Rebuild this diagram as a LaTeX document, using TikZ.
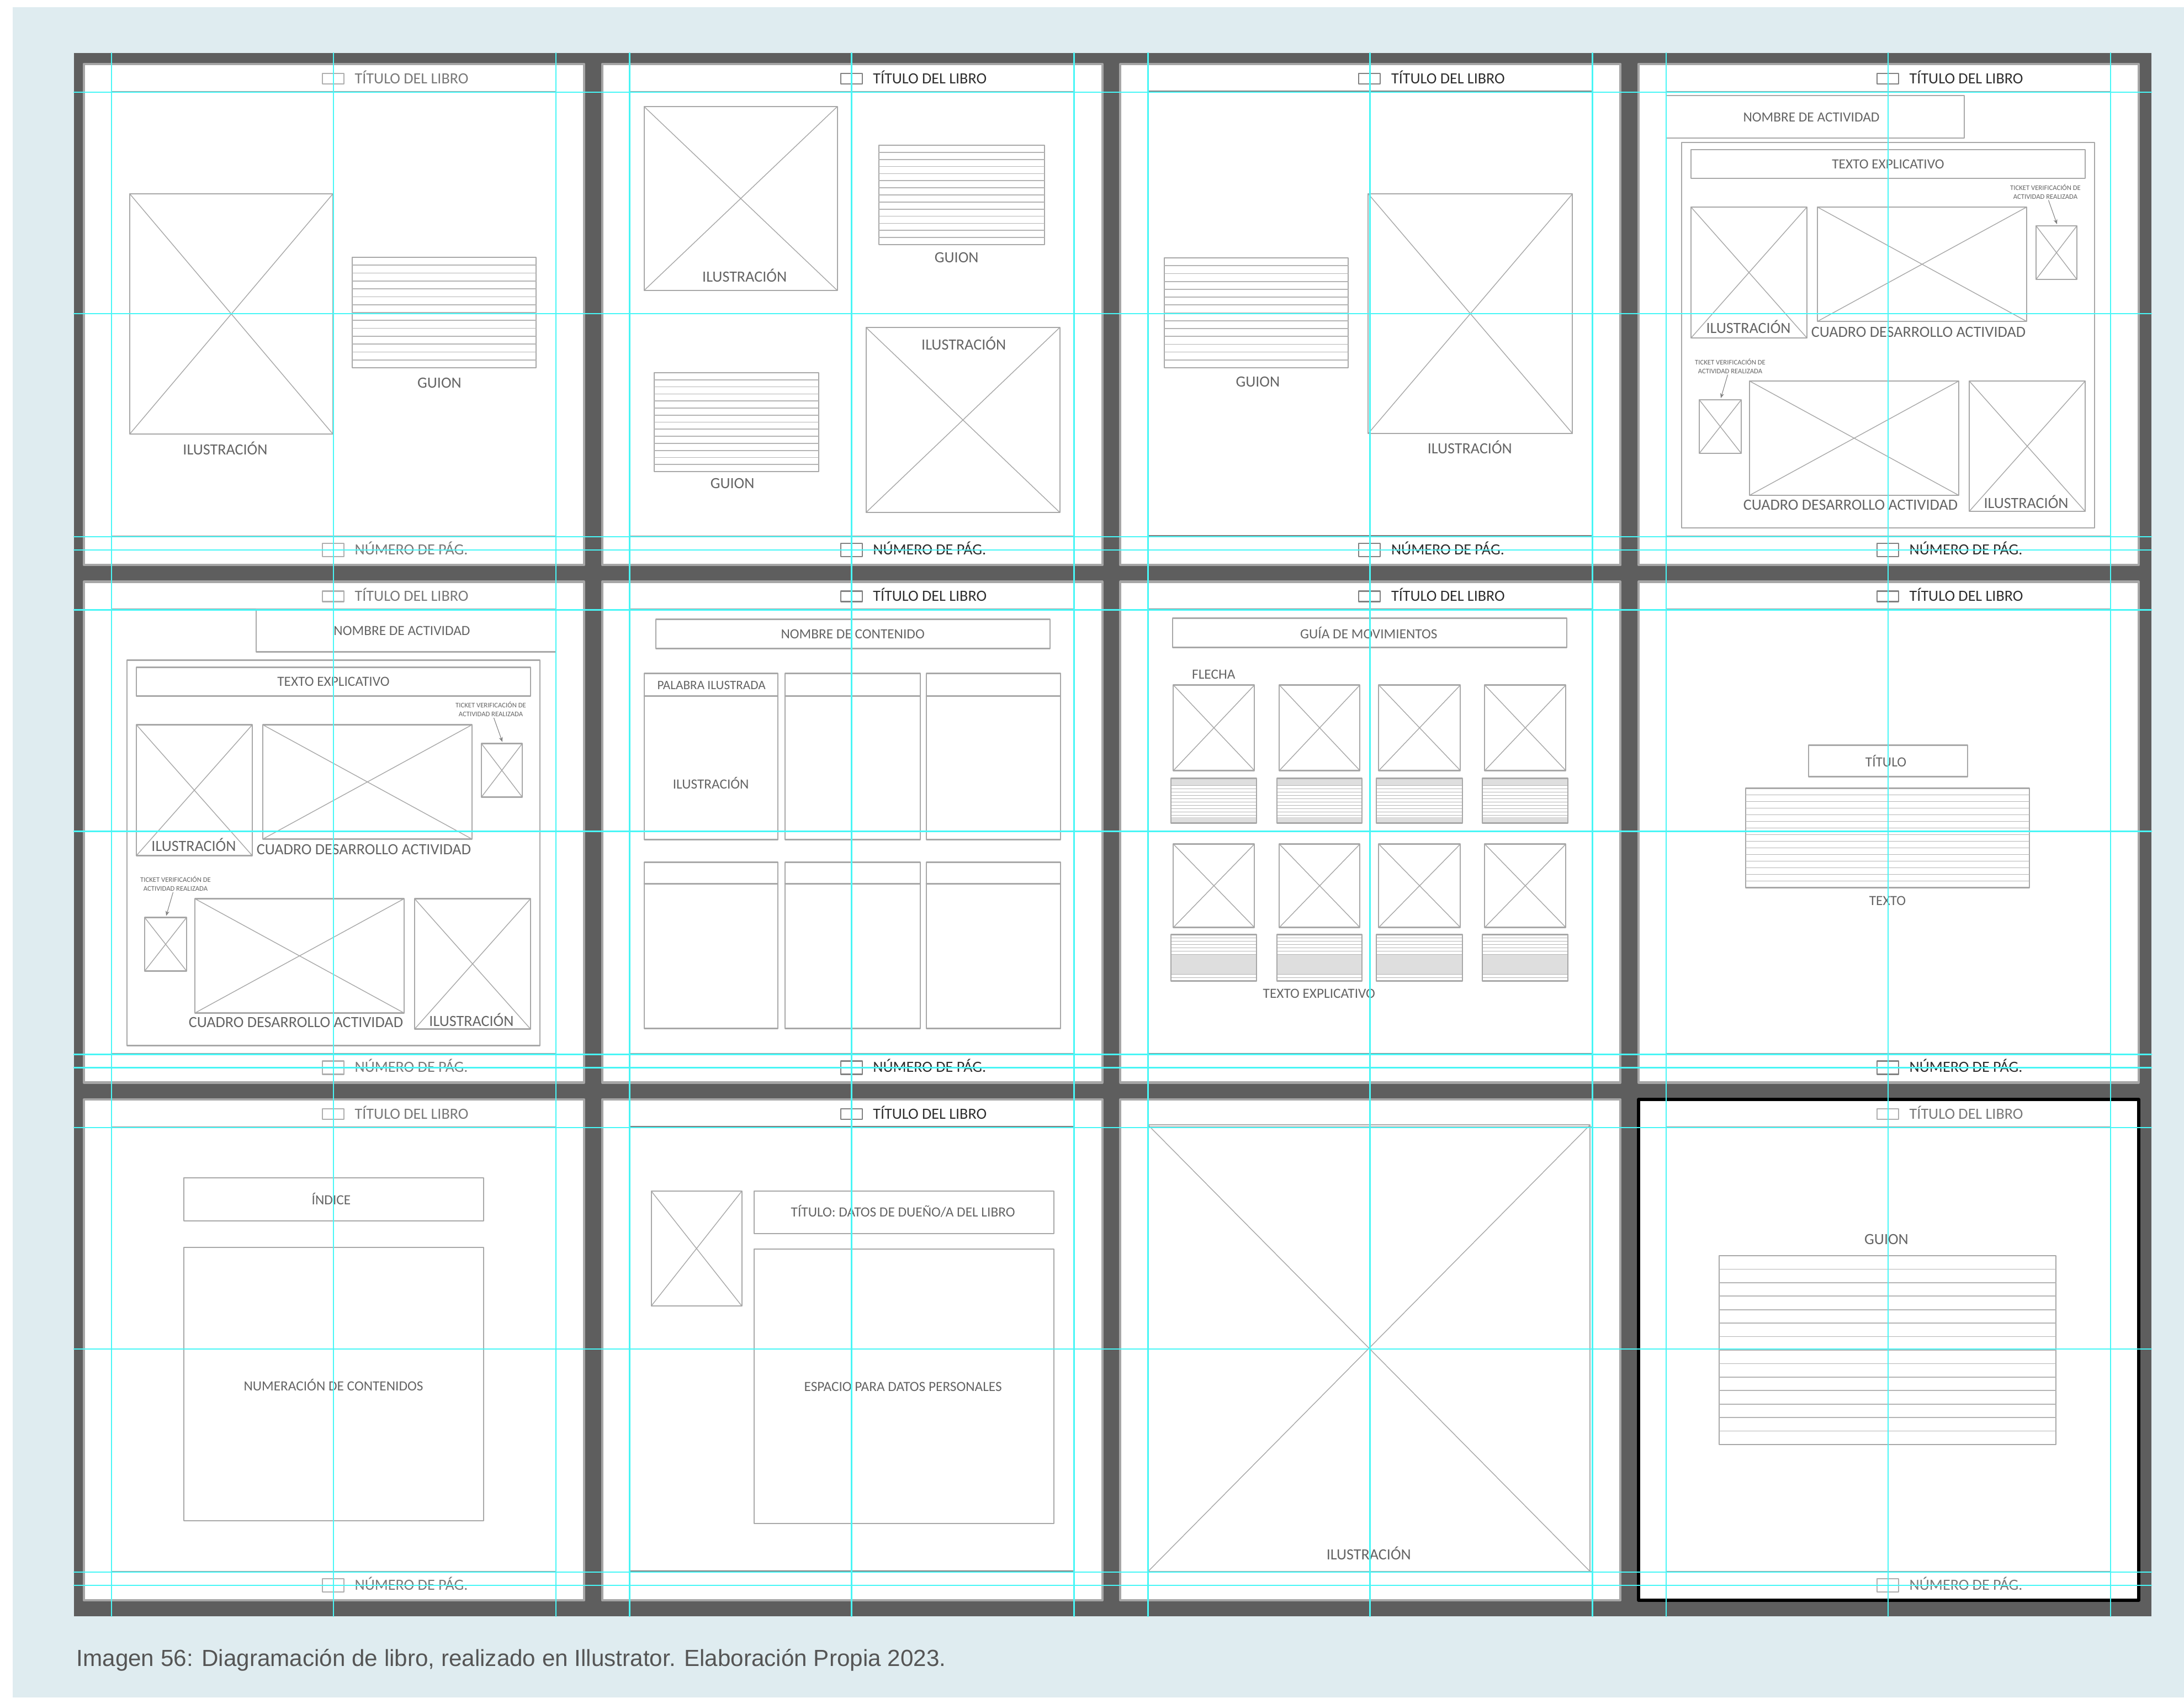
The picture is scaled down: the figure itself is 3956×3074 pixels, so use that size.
\documentclass[tikz,border=0pt]{standalone}
\usepackage{fontspec}
\setmainfont{Liberation Sans}
\newfontfamily\wirefont{Carlito}
\usetikzlibrary{arrows.meta}

\definecolor{bgblue}{RGB}{223,236,240}
\definecolor{boardgray}{RGB}{94,94,94}
\definecolor{guidecyan}{RGB}{72,246,246}
\definecolor{wiregray}{RGB}{168,168,168}
\definecolor{rulegray}{RGB}{180,180,180}
\definecolor{bandgray}{RGB}{222,222,222}
\definecolor{margingray}{RGB}{155,155,155}
\definecolor{lblgray}{RGB}{100,100,100}
\definecolor{inkdark}{RGB}{45,45,45}
\definecolor{inklight}{RGB}{120,120,120}
\definecolor{capgray}{RGB}{85,85,85}

\tikzset{
  artboard/.style={fill=white,draw=gray!70,line width=1.2pt},
  marginbox/.style={draw=margingray,line width=0.8pt},
  wirebox/.style={draw=wiregray,line width=0.6pt},
  crossline/.style={draw=wiregray,line width=0.4pt},
  ruleline/.style={draw=rulegray,line width=0.5pt},
  lbl/.style={font=\wirefont\fontsize{8}{9}\selectfont,text=lblgray,inner sep=0pt},
  lbls/.style={font=\wirefont\fontsize{7.2}{8}\selectfont,text=lblgray,inner sep=0pt},
  ticket/.style={font=\wirefont\fontsize{3.6}{4.5}\selectfont,text=lblgray,inner sep=0.5pt,align=center},
  tickarrow/.style={draw=gray,line width=0.3pt,-{Stealth[length=2.5pt,width=2pt]}},
  runhead/.style={font=\wirefont\fontsize{8}{9}\selectfont,anchor=base west,inner sep=0pt},
  guide/.style={draw=guidecyan,line width=0.7pt},
  captiontext/.style={font=\fontsize{12}{14}\selectfont,text=capgray,anchor=base west,inner sep=0pt}
}

% image placeholder: a box with its two diagonals
\newcommand{\xbox}[4]{%
  \draw[wirebox] (#1,#2) rectangle (#3,#4);
  \draw[crossline] (#1,#2) -- (#3,#4) (#1,#4) -- (#3,#2);}
% text placeholder: a box with #5 ruled lines
\newcommand{\ruledbox}[5]{%
  \draw[wirebox] (#1,#2) rectangle (#3,#4);
  \foreach \k in {1,...,#5}{
    \pgfmathsetmacro{\ry}{#2+(#4-#2)*\k/(#5+1)}
    \draw[ruleline] (#1,\ry) -- (#3,\ry);}}
% close lines every 6 units
\newcommand{\stripes}[4]{%
  \pgfmathtruncatemacro{\ns}{(#4-#2)/6}
  \foreach \k in {0,...,\ns}
    \draw[ruleline] ({#1},{#2+6*\k}) -- ({#3},{#2+6*\k});}
% running head and foot
\newcommand{\pagehead}[2]{%
  \draw[draw=#2!60,line width=0.6pt] (432,17) rectangle (471,36);
  \node[runhead,text=#2] (#1head) at (490,35) {TÍTULO DEL LIBRO};}
\newcommand{\pagefoot}[2]{%
  \draw[draw=#2!60,line width=0.6pt] (432,868) rectangle (471,892);
  \node[runhead,text=#2] (#1foot) at (490,888) {NÚMERO DE PÁG.};}
% activity spread shared by two pages
\newcommand{\activity}[1]{%
  \draw[wirebox] (78,142) rectangle (826,840);
  \draw[wirebox] (95,155) rectangle (809,207);
  \node[lbls] (#1texto) at (452,181) {TEXTO EXPLICATIVO};
  \xbox{95}{259}{305}{496}
  \node[lbl] (#1ilup) at (199,476) {ILUSTRACIÓN};
  \xbox{324}{259}{703}{466}
  \node[lbl] (#1cdup) at (507,485) {CUADRO DESARROLLO ACTIVIDAD};
  \node[ticket] (#1tkup) at (737,231) {TICKET VERIFICACIÓN DE\\ACTIVIDAD REALIZADA};
  \xbox{720}{293}{794}{390}
  \coordinate (#1tbup) at (758,290);
  \draw[tickarrow] (#1tkup) -- (#1tbup);
  \node[ticket] (#1tklo) at (166,547) {TICKET VERIFICACIÓN DE\\ACTIVIDAD REALIZADA};
  \xbox{110}{608}{186}{705}
  \coordinate (#1tblo) at (149,605);
  \draw[tickarrow] (#1tklo) -- (#1tblo);
  \xbox{201}{574}{580}{781}
  \node[lbl] (#1cdlo) at (384,798) {CUADRO DESARROLLO ACTIVIDAD};
  \xbox{599}{574}{809}{810}
  \node[lbl] (#1illo) at (702,793) {ILUSTRACIÓN};}

\begin{document}
\begin{tikzpicture}[x=0.01cm,y=-0.01cm,line cap=round,line join=round]
  \useasboundingbox (0,0) rectangle (3956,3074);
  % Figure background and the dark pasteboard.
  \fill[white] (0,0) rectangle (3956,3074);
  \fill[bgblue] (23,13) rectangle (3956,3074);
  \fill[boardgray] (134,96) rectangle (3897,2927);

  % Twelve artboards with their margin boxes.
  \foreach \c in {0,...,3}
   \foreach \r in {0,1,2}{
    \draw[artboard] ({152+938.67*\c},{116+937.5*\r}) rectangle ++(906,907);
    \draw[marginbox] ({202+938.67*\c},{166+937.5*\r}) rectangle ++(805,805);
   }
  \draw[black,line width=1.6pt] (2968,1991) rectangle ++(906,907);

  % Page 1: illustration and script.
  \begin{scope}[shift={(152,116)}]
   \pagehead{pa}{inklight}
   \pagefoot{pa}{inklight}
   \xbox{83}{235}{451}{670}
   \node[lbl] (pail) at (256,696) {ILUSTRACIÓN};
   \ruledbox{486}{350}{819}{550}{13}
   \node[lbl] (pagu) at (644,577) {GUION};
  \end{scope}

  % Page 2: two illustrations and two scripts.
  \begin{scope}[shift={(1090.67,116)}]
   \pagehead{pb}{inkdark}
   \pagefoot{pb}{inkdark}
   \xbox{76}{77}{426}{410}
   \node[lbl] (pbilup) at (258,383) {ILUSTRACIÓN};
   \ruledbox{501}{147}{801}{327}{13}
   \node[lbl] (pbguup) at (642,350) {GUION};
   \ruledbox{94}{559}{392}{738}{13}
   \node[lbl] (pbgulo) at (236,759) {GUION};
   \xbox{478}{477}{829}{812}
   \node[lbl] (pbillo) at (655,506) {ILUSTRACIÓN};
  \end{scope}

  % Page 3: script and illustration.
  \begin{scope}[shift={(2029.33,116)}]
   \pagehead{pc}{inkdark}
   \pagefoot{pc}{inkdark}
   \draw[draw=gray,line width=0.9pt] (50,50) rectangle (855,855);
   \ruledbox{80}{351}{413}{550}{13}
   \node[lbl] (pcgu) at (249,575) {GUION};
   \xbox{449}{235}{819}{669}
   \node[lbl] (pcil) at (633,694) {ILUSTRACIÓN};
  \end{scope}

  % Page 4: activity, name box on the left.
  \begin{scope}[shift={(2968,116)}]
   \pagehead{pd}{inkdark}
   \pagefoot{pd}{inkdark}
   \draw[wirebox] (50,57) rectangle (590,134);
   \node[lbls] (pdnom) at (313,96) {NOMBRE DE ACTIVIDAD};
   \activity{pd}
  \end{scope}

  % Page 5: activity, name box on the right.
  \begin{scope}[shift={(152,1053.5)}]
   \pagehead{pe}{inklight}
   \pagefoot{pe}{inklight}
   \draw[wirebox] (312,50) rectangle (855,127);
   \node[lbls] (penom) at (576,89) {NOMBRE DE ACTIVIDAD};
   \activity{pe}
  \end{scope}

  % Page 6: illustrated words.
  \begin{scope}[shift={(1090.67,1053.5)}]
   \pagehead{pf}{inkdark}
   \pagefoot{pf}{inkdark}
   \draw[wirebox] (97,68) rectangle (811,121);
   \node[lbls] (pfnom) at (454,95) {NOMBRE DE CONTENIDO};
   \foreach \xa/\xb in {76/318,331/576,587/830}{
    \draw[wirebox] (\xa,166) rectangle (\xb,467) (\xa,207) -- (\xb,207);
    \draw[wirebox] (\xa,508) rectangle (\xb,809) (\xa,547) -- (\xb,547);
   }
   \node[font=\wirefont\fontsize{6.6}{8}\selectfont,text=lblgray,inner sep=0pt] (pfpal) at (198,188) {PALABRA ILUSTRADA};
   \node[lbls] (pfil) at (197,364) {ILUSTRACIÓN};
  \end{scope}

  % Page 7: movement guide.
  \begin{scope}[shift={(2029.33,1053.5)}]
   \pagehead{pg}{inkdark}
   \draw[draw=gray,line width=0.9pt] (50,50) rectangle (855,855);
   \draw[wirebox] (95,66) rectangle (809,119);
   \node[lbls] (pgnom) at (450,92) {GUÍA DE MOVIMIENTOS};
   \node[lbls] (pgfle) at (169,168) {FLECHA};
   \foreach \xa/\xb in {96/243,288/434,468/616,660/807}{
    \xbox{\xa}{187}{\xb}{342}
    \xbox{\xa}{475}{\xb}{626}
    \fill[bandgray] ({\xa-4},356) rectangle ({\xb+4},369) ({\xa-4},426) rectangle ({\xb+4},437);
    \stripes{\xa-4}{369}{\xb+4}{426}
    \draw[wirebox] ({\xa-4},356) rectangle ({\xb+4},437);
    \fill[bandgray] ({\xa-4},675) rectangle ({\xb+4},711);
    \stripes{\xa-4}{639}{\xb+4}{675}
    \stripes{\xa-4}{711}{\xb+4}{723}
    \draw[wirebox] ({\xa-4},639) rectangle ({\xb+4},723);
   }
   \node[lbls] (pgtex) at (360,746) {TEXTO EXPLICATIVO};
  \end{scope}

  % Page 8: title and text.
  \begin{scope}[shift={(2968,1053.5)}]
   \pagehead{ph}{inkdark}
   \pagefoot{ph}{inkdark}
   \draw[wirebox] (308,296) rectangle (596,353);
   \node[lbls] (phtit) at (448,324) {TÍTULO};
   \ruledbox{194}{374}{708}{554}{14}
   \node[lbls] (phtex) at (451,578) {TEXTO};
  \end{scope}

  % Page 9: table of contents.
  \begin{scope}[shift={(152,1991)}]
   \pagehead{pi}{inklight}
   \pagefoot{pi}{inklight}
   \draw[wirebox] (181,142) rectangle (724,220);
   \node[lbls] (piind) at (448,180) {ÍNDICE};
   \draw[wirebox] (181,268) rectangle (724,763);
   \node[lbls] (pinum) at (452,517) {NUMERACIÓN DE CONTENIDOS};
  \end{scope}

  % Page 10: owner's data.
  \begin{scope}[shift={(1090.67,1991)}]
   \pagehead{pj}{inkdark}
   \draw[draw=gray,line width=0.9pt] (50,50) rectangle (855,855);
   \xbox{89}{166}{253}{374}
   \draw[wirebox] (275,166) rectangle (818,243);
   \node[lbls] (pjtit) at (545,202) {TÍTULO: DATOS DE DUEÑO/A DEL LIBRO};
   \draw[wirebox] (275,271) rectangle (818,768);
   \node[lbls] (pjesp) at (545,520) {ESPACIO PARA DATOS PERSONALES};
  \end{scope}

  % Page 11: full-page illustration.
  \begin{scope}[shift={(2029.33,1991)}]
   \xbox{50}{46}{851}{855}
   \node[lbl] (pkil) at (450,822) {ILUSTRACIÓN};
  \end{scope}

  % Page 12: script.
  \begin{scope}[shift={(2968,1991)}]
   \pagehead{pl}{inklight}
   \pagefoot{pl}{inklight}
   \node[lbl] (plgu) at (449,253) {GUION};
   \ruledbox{146}{283}{756}{625}{13}
  \end{scope}

  % Cyan guides over everything.
  \foreach \c in {0,...,3}
   \foreach \g in {50,452,855}
    \draw[guide] ({152+938.67*\c+\g},96) -- ++(0,2831);
  \foreach \r in {0,1,2}
   \foreach \g in {51,452,856,880}
    \draw[guide] (134,{116+937.5*\r+\g}) -- (3897,{116+937.5*\r+\g});

  % Caption.
  \node[captiontext] (caption) at (138,3017) {Imagen 56: Diagramación de libro, realizado en Illustrator. Elaboración Propia 2023.};
\end{tikzpicture}
\end{document}
